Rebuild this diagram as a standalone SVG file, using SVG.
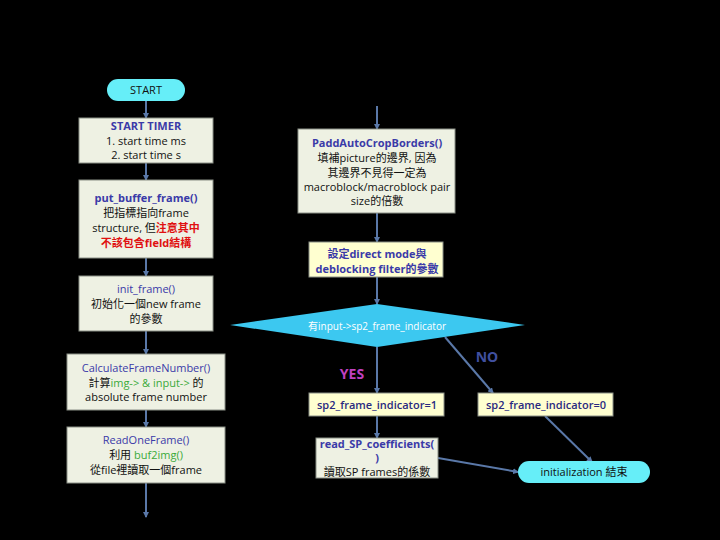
<svg xmlns="http://www.w3.org/2000/svg" width="720" height="540" viewBox="0 0 720 540">
<defs>
<style>
text{font-family:"Open Sans","Noto Sans CJK TC",sans-serif;font-size:11px;fill:#111;text-anchor:middle}
.h{fill:#3a3aa8}
.b{font-weight:bold}
.n{fill:#2a2a80;font-weight:600}
.g{fill:#3aaa3a}
.r{fill:#e01010;font-weight:bold}
.box{fill:#eef1e3;stroke:#8a8f86;stroke-width:1}
.ybox{fill:#ffffd0;stroke:#8a8f86;stroke-width:1}
.pill{fill:#66eef8}
.c{stroke:#5a78a8;stroke-width:2;fill:none}
</style>
<marker id="a" viewBox="0 0 6 6" refX="5" refY="3" markerWidth="3" markerHeight="3" orient="auto"><path d="M0,0L6,3L0,6z" fill="#5a78a8"/></marker>
</defs>
<rect width="720" height="540" fill="#000"/>
<g id="connectors">
<line class="c" x1="146" y1="101" x2="146" y2="118" marker-end="url(#a)"/>
<line class="c" x1="146" y1="163" x2="146" y2="180" marker-end="url(#a)"/>
<line class="c" x1="146" y1="258" x2="146" y2="276" marker-end="url(#a)"/>
<line class="c" x1="146" y1="331" x2="146" y2="354" marker-end="url(#a)"/>
<line class="c" x1="146" y1="410" x2="146" y2="427" marker-end="url(#a)"/>
<line class="c" x1="146" y1="483" x2="146" y2="517" marker-end="url(#a)"/>
<line class="c" x1="377" y1="106" x2="377" y2="129" marker-end="url(#a)"/>
<line class="c" x1="377" y1="213" x2="377" y2="242" marker-end="url(#a)"/>
<line class="c" x1="377" y1="277" x2="377" y2="304" marker-end="url(#a)"/>
<line class="c" x1="377" y1="347" x2="377" y2="393" marker-end="url(#a)"/>
<line class="c" x1="445" y1="337" x2="493" y2="393" marker-end="url(#a)"/>
<line class="c" x1="377" y1="416" x2="377" y2="438" marker-end="url(#a)"/>
<line class="c" x1="438" y1="458" x2="518" y2="472" marker-end="url(#a)"/>
<line class="c" x1="545" y1="416" x2="592" y2="462" marker-end="url(#a)"/>
</g>
<g id="start">
<rect class="pill" x="107" y="79" width="78" height="22" rx="11"/>
<text x="146" y="94">START</text>
</g>
<g id="timer">
<rect class="box" x="79" y="118" width="134" height="45"/>
<text x="146" y="130" class="h b">START TIMER</text>
<text x="146" y="145">1. start time ms</text>
<text x="146" y="159">2. start time s</text>
</g>
<g id="putbuf">
<rect class="box" x="79" y="180" width="134" height="78"/>
<text x="146" y="202" class="h b">put_buffer_frame()</text>
<text x="146" y="217">把指標指向frame</text>
<text x="146" y="232">structure, 但<tspan class="r">注意其中</tspan></text>
<text x="146" y="247" class="r">不該包含field結構</text>
</g>
<g id="initframe">
<rect class="box" x="79" y="276" width="134" height="55"/>
<text x="146" y="293" class="h">init_frame()</text>
<text x="146" y="308">初始化一個new frame</text>
<text x="146" y="323">的參數</text>
</g>
<g id="calc">
<rect class="box" x="67" y="354" width="158" height="56"/>
<text x="146" y="372" class="h">CalculateFrameNumber()</text>
<text x="146" y="387">計算<tspan class="g">img-&gt; &amp; input-&gt;</tspan> 的</text>
<text x="146" y="401">absolute frame number</text>
</g>
<g id="readone">
<rect class="box" x="67" y="427" width="158" height="56"/>
<text x="146" y="444" class="h">ReadOneFrame()</text>
<text x="146" y="459">利用 <tspan class="g">buf2img()</tspan></text>
<text x="146" y="474">從file裡讀取一個frame</text>
</g>
<g id="padd">
<rect class="box" x="298" y="129" width="157" height="84"/>
<text x="377" y="147" class="h b">PaddAutoCropBorders()</text>
<text x="377" y="162">填補picture的邊界, 因為</text>
<text x="377" y="177">其邊界不見得一定為</text>
<text x="377" y="191">macroblock/macroblock pair</text>
<text x="377" y="205">size的倍數</text>
</g>
<g id="direct">
<rect class="ybox" x="309" y="242" width="134" height="35"/>
<text x="377" y="258" class="h b">設定direct mode與</text>
<text x="377" y="273" class="h b">deblocking filter的參數</text>
</g>
<g id="decision">
<polygon points="377,304 525,325 377,347 230,325" fill="#3cc8f0"/>
<text x="377" y="330" style="fill:#fff;font-size:10px">有input-&gt;sp2_frame_indicator</text>
</g>
<text x="352" y="379" class="b" style="fill:#c040c0;font-size:14px">YES</text>
<text x="487" y="362" class="b" style="fill:#4050a0;font-size:14px">NO</text>
<g id="sp1">
<rect class="ybox" x="309" y="393" width="135" height="23"/>
<text x="377" y="409" class="n">sp2_frame_indicator=1</text>
</g>
<g id="sp0">
<rect class="ybox" x="478" y="393" width="135" height="23"/>
<text x="546" y="409" class="n">sp2_frame_indicator=0</text>
</g>
<g id="readsp">
<rect class="box" x="316" y="438" width="122" height="40"/>
<text x="377" y="448" class="h b">read_SP_coefficients(</text>
<text x="377" y="462" class="h b">)</text>
<text x="377" y="476">讀取SP frames的係數</text>
</g>
<g id="initend">
<rect class="pill" x="518" y="461" width="132" height="22" rx="11"/>
<text x="584" y="476">initialization 結束</text>
</g>
</svg>
